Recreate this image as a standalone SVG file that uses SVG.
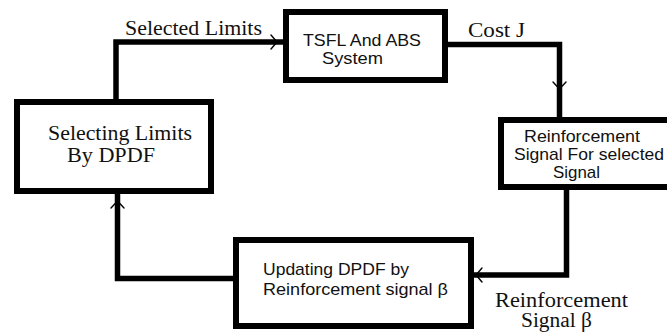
<svg xmlns="http://www.w3.org/2000/svg" width="667" height="334" viewBox="0 0 667 334">
  <style>
    .box { fill: #ffffff; stroke: #000000; stroke-width: 6; }
    .wire { fill: none; stroke: #000000; stroke-width: 5.5; stroke-linejoin: miter; }
    .tip { fill: none; stroke: #000000; stroke-width: 1.4; stroke-linecap: round; stroke-linejoin: round; }
    .sans { font-family: "Liberation Sans", Arial, sans-serif; font-size: 17px; fill: #111111; }
    .serif { font-family: "Liberation Serif", "Times New Roman", serif; font-size: 20px; fill: #111111; }
  </style>
  <rect width="667" height="334" fill="#ffffff"/>

  <!-- connectors -->
  <g id="connectors">
    <path class="wire" d="M116,99 V42 H283"/>
    <path class="wire" d="M448,44.5 H559.5 V117"/>
    <path class="wire" d="M566.5,190 V275 H474"/>
    <path class="wire" d="M233,278.5 H117.5 V194"/>
    <!-- small open arrow tips -->
    <polyline class="tip" points="271,35 277,42 271,49"/>
    <polyline class="tip" points="553,82 559.5,89 566,82"/>
    <polyline class="tip" points="482,268 476,275 482,282"/>
    <polyline class="tip" points="111,208 117.5,201 124,208"/>
    <text class="serif" x="125" y="35" textLength="137" lengthAdjust="spacingAndGlyphs">Selected Limits</text>
    <text class="serif" x="468" y="37" textLength="57" lengthAdjust="spacingAndGlyphs">Cost J</text>
    <text class="serif" x="495" y="306.5" textLength="133" lengthAdjust="spacingAndGlyphs">Reinforcement</text>
    <text class="serif" x="521" y="327" textLength="71" lengthAdjust="spacingAndGlyphs">Signal β</text>
  </g>

  <g id="node-tsfl">
    <rect class="box" x="286" y="12" width="159" height="68"/>
    <text class="sans" x="303" y="45.5" textLength="118" lengthAdjust="spacingAndGlyphs">TSFL And ABS</text>
    <text class="sans" x="322" y="64" textLength="61" lengthAdjust="spacingAndGlyphs">System</text>
  </g>

  <g id="node-select">
    <rect class="box" x="17" y="102" width="194" height="89"/>
    <text class="serif" x="48" y="140" textLength="144" lengthAdjust="spacingAndGlyphs">Selecting Limits</text>
    <text class="serif" x="67" y="162" textLength="88" lengthAdjust="spacingAndGlyphs">By DPDF</text>
  </g>

  <g id="node-reinforce">
    <rect class="box" x="501" y="120" width="200" height="67"/>
    <text class="sans" x="524" y="141.5" textLength="116" lengthAdjust="spacingAndGlyphs">Reinforcement</text>
    <text class="sans" x="514" y="160" textLength="150" lengthAdjust="spacingAndGlyphs">Signal For selected</text>
    <text class="sans" x="553" y="178" textLength="47" lengthAdjust="spacingAndGlyphs">Signal</text>
  </g>

  <g id="node-update">
    <rect class="box" x="236" y="240" width="235" height="86"/>
    <text class="sans" x="263" y="275" textLength="146" lengthAdjust="spacingAndGlyphs">Updating DPDF by</text>
    <text class="sans" x="263" y="295" textLength="185" lengthAdjust="spacingAndGlyphs">Reinforcement signal β</text>
  </g>
</svg>
